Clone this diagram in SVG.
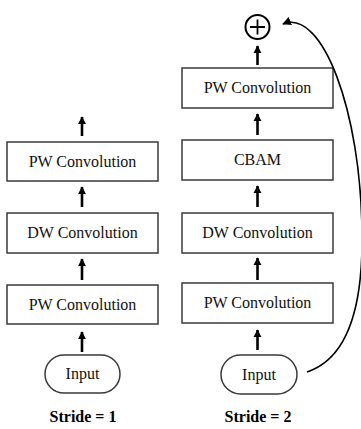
<svg xmlns="http://www.w3.org/2000/svg" width="361" height="429" viewBox="0 0 361 429">
  <defs>
    <marker id="head" viewBox="0 0 10 10" refX="9" refY="5" markerWidth="3.2" markerHeight="3.2" orient="auto" markerUnits="strokeWidth">
      <path d="M0,0 L10,5 L0,10 Z" fill="#000"/>
    </marker>
    <marker id="headThin" viewBox="0 0 10 10" refX="9" refY="5" markerWidth="5.5" markerHeight="5.5" orient="auto" markerUnits="strokeWidth">
      <path d="M0,0 L10,5 L0,10 Z" fill="#000"/>
    </marker>
  </defs>
  <style>
    .box { fill: #fff; stroke: #3a3a3a; stroke-width: 1.5; }
    text { font-family: 'Liberation Serif', 'Times New Roman', 'DejaVu Serif', serif; }
    .lbl { font-size: 16px; fill: #111; text-anchor: middle; }
    .title { font-size: 16px; font-weight: bold; fill: #000; text-anchor: middle; }
    .arrow { stroke: #000; stroke-width: 2.6; fill: none; marker-end: url(#head); }
    .skip { stroke: #000; stroke-width: 1.6; fill: none; marker-end: url(#headThin); }
  </style>

  <!-- Stride = 1 block -->
  <g id="s1-input">
    <rect class="box" x="45" y="355" width="75" height="38" rx="19"/>
    <text class="lbl" x="82.5" y="379" font-family="Liberation Serif, serif">Input</text>
  </g>
  <g id="s1-pw1">
    <rect class="box" x="7" y="285" width="151" height="39"/>
    <text class="lbl" x="82.5" y="310" font-family="Liberation Serif, serif">PW Convolution</text>
  </g>
  <g id="s1-dw">
    <rect class="box" x="7" y="213" width="151" height="40"/>
    <text class="lbl" x="82.5" y="238" font-family="Liberation Serif, serif">DW Convolution</text>
  </g>
  <g id="s1-pw2">
    <rect class="box" x="7" y="142" width="151" height="39"/>
    <text class="lbl" x="82.5" y="167" font-family="Liberation Serif, serif">PW Convolution</text>
  </g>
  <g id="s1-title">
    <text class="title" x="83" y="422" font-family="Liberation Serif, serif">Stride = 1</text>
  </g>

  <!-- Stride = 2 block -->
  <g id="s2-input">
    <rect class="box" x="221" y="355" width="76" height="39" rx="19.5"/>
    <text class="lbl" x="259" y="380" font-family="Liberation Serif, serif">Input</text>
  </g>
  <g id="s2-pw1">
    <rect class="box" x="182" y="283" width="151" height="40"/>
    <text class="lbl" x="257.5" y="308" font-family="Liberation Serif, serif">PW Convolution</text>
  </g>
  <g id="s2-dw">
    <rect class="box" x="182" y="213" width="151" height="40"/>
    <text class="lbl" x="257.5" y="238" font-family="Liberation Serif, serif">DW Convolution</text>
  </g>
  <g id="s2-cbam">
    <rect class="box" x="182" y="140" width="151" height="40"/>
    <text class="lbl" x="257.5" y="165" font-family="Liberation Serif, serif">CBAM</text>
  </g>
  <g id="s2-pw2">
    <rect class="box" x="182" y="68" width="151" height="40"/>
    <text class="lbl" x="257.5" y="93" font-family="Liberation Serif, serif">PW Convolution</text>
  </g>
  <g id="s2-add">
    <circle cx="257.5" cy="27" r="12" fill="#fff" stroke="#000" stroke-width="2"/>
    <path d="M250,27 H265 M257.5,19.5 V34.5" stroke="#000" stroke-width="1.8"/>
  </g>
  <g id="s2-title">
    <text class="title" x="258" y="422" font-family="Liberation Serif, serif">Stride = 2</text>
  </g>

  <!-- connectors -->
  <g id="connectors">
    <line class="arrow" x1="82" y1="352" x2="82" y2="332"/>
    <line class="arrow" x1="82" y1="280" x2="82" y2="259"/>
    <line class="arrow" x1="82" y1="207" x2="82" y2="187"/>
    <line class="arrow" x1="82" y1="136" x2="82" y2="117"/>

    <line class="arrow" x1="257.5" y1="350" x2="257.5" y2="330"/>
    <line class="arrow" x1="257.5" y1="280" x2="257.5" y2="258"/>
    <line class="arrow" x1="257.5" y1="207" x2="257.5" y2="186"/>
    <line class="arrow" x1="257.5" y1="135" x2="257.5" y2="114"/>
    <line class="arrow" x1="257.5" y1="65" x2="257.5" y2="46"/>

    <path class="skip" d="M307,372 C350,358 363,300 362,233 C361,110 322,8 283,24"/>
  </g>
</svg>
